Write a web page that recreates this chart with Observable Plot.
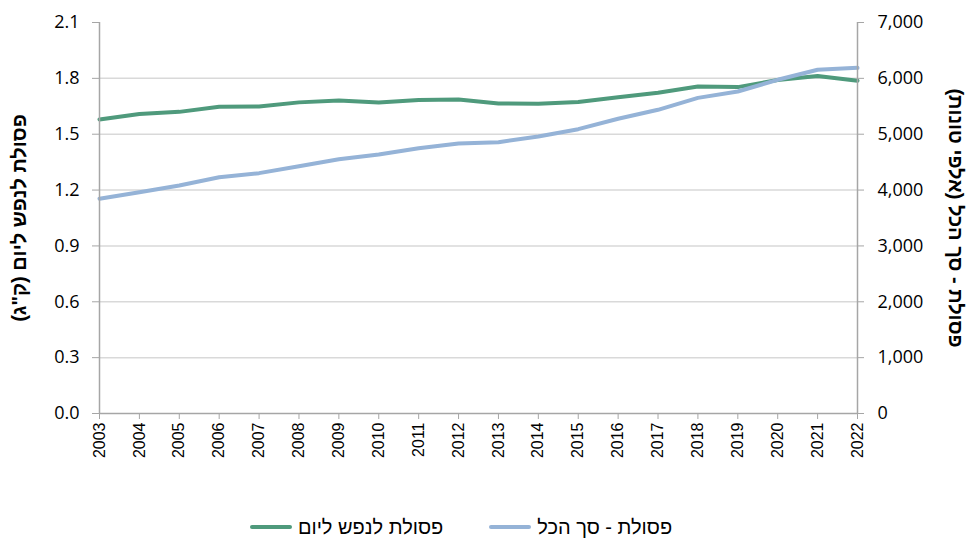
<!DOCTYPE html>
<html lang="he">
<head>
<meta charset="utf-8">
<script src="https://cdn.jsdelivr.net/npm/d3@7"></script>
<script src="https://cdn.jsdelivr.net/npm/@observablehq/plot@0.6"></script>
<style>
  html, body { margin: 0; padding: 0; background: #fff; }
  #wrap { position: relative; width: 969px; height: 543px; font-family: "Liberation Sans", Arial, sans-serif; }
  #legend { position: absolute; top: 512px; left: 0; width: 922px; height: 30px; display: flex; justify-content: center; align-items: center; direction: rtl; gap: 46px; font-size: 20px; color: #000; }
  .item { display: flex; align-items: center; gap: 6px; }
  .sw { width: 42px; height: 4px; border-radius: 2px; }
</style>
</head>
<body>
<div id="wrap">
  <div id="chart"></div>
  <div id="legend"></div>
</div>
<script>
const years = [2003, 2004, 2005, 2006, 2007, 2008, 2009, 2010, 2011, 2012, 2013, 2014, 2015, 2016, 2017, 2018, 2019, 2020, 2021, 2022];
const perCapitaKg = [1.579, 1.608, 1.620, 1.648, 1.649, 1.671, 1.681, 1.670, 1.684, 1.686, 1.665, 1.663, 1.673, 1.698, 1.723, 1.756, 1.753, 1.791, 1.813, 1.787];
const totalThousandTons = [3844, 3962, 4082, 4231, 4303, 4428, 4553, 4637, 4750, 4834, 4857, 4959, 5090, 5276, 5437, 5651, 5764, 5974, 6153, 6189];
const leftTicks = [0, 0.3, 0.6, 0.9, 1.2, 1.5, 1.8, 2.1];
const rightTicks = [0, 1000, 2000, 3000, 4000, 5000, 6000, 7000];
const seriesNames = ["פסולת לנפש ליום", "פסולת - סך הכל"];
const leftTitle = "פסולת לנפש ליום (ק\"ג)";
const rightTitle = "פסולת - סך הכל (אלפי טונות)";
const colors = ["#4f9a7c", "#95b3d7"];

const k = 2.1 / 7000;
const data = years.map((y, i) => ({ year: y, perCapita: perCapitaKg[i], total: totalThousandTons[i] }));
const axisGray = "#a6a6a6";
const tickFont = "'Open Sans', 'Liberation Sans', sans-serif";
const hebFont = "'Liberation Sans', Arial, sans-serif";

const chart = Plot.plot({
  width: 969,
  height: 500,
  marginLeft: 99,
  marginRight: 112,
  marginTop: 22,
  marginBottom: 87,
  style: { fontFamily: tickFont, fontSize: "18px", background: "#fff", color: "#000" },
  x: { domain: [2003, 2022] },
  y: { domain: [0, 2.1] },
  marks: [
    Plot.gridY(leftTicks.slice(1, -1), { stroke: "#d9d9d9", strokeOpacity: 1, strokeWidth: 1.5 }),
    Plot.line(data, { x: "year", y: "perCapita", stroke: colors[0], strokeWidth: 4 }),
    Plot.line(data, { x: "year", y: d => d.total * k, stroke: colors[1], strokeWidth: 4 }),
    Plot.ruleX([2003, 2022], { stroke: axisGray, strokeWidth: 1.5 }),
    Plot.ruleY([0], { stroke: axisGray, strokeWidth: 1.5 }),
    Plot.axisY(leftTicks, { anchor: "left", tickSize: 7, tickPadding: 13, tickFormat: d3.format(".1f"), label: null, stroke: axisGray, fill: "#000", fontSize: 18, fontWeight: 500 }),
    Plot.axisY(rightTicks.map(v => v * k), { anchor: "right", tickSize: 6, tickPadding: 14, tickFormat: d => d3.format(",")(Math.round(d / k)), label: null, stroke: axisGray, fill: "#000", fontSize: 18, fontWeight: 500 }),
    Plot.axisX(years, { anchor: "bottom", tickSize: 6, tickPadding: 3, tickRotate: -90, tickFormat: d => String(d), label: null, stroke: axisGray, fill: "#000", fontSize: 16, fontFamily: hebFont }),
    Plot.text([leftTitle], { frameAnchor: "left", textAnchor: "middle", dx: -80, rotate: -90, fontWeight: "bold", fontSize: 20, fontFamily: hebFont, fill: "#000", text: d => d, className: "rtl-title" }),
    Plot.text([rightTitle], { frameAnchor: "right", textAnchor: "middle", dx: 98, rotate: 90, fontWeight: "bold", fontSize: 20, fontFamily: hebFont, fill: "#000", text: d => d, className: "rtl-title" })
  ]
});
chart.querySelectorAll(".rtl-title text").forEach(t => { t.setAttribute("direction", "rtl"); t.style.direction = "rtl"; t.style.unicodeBidi = "embed"; });
document.getElementById("chart").appendChild(chart);

const legend = document.getElementById("legend");
[1, 0].forEach(i => {
  const item = document.createElement("div");
  item.className = "item";
  const label = document.createElement("span");
  label.textContent = seriesNames[i];
  const sw = document.createElement("span");
  sw.className = "sw";
  sw.style.background = colors[i];
  item.appendChild(label);
  item.appendChild(sw);
  legend.appendChild(item);
});
</script>
</body>
</html>
